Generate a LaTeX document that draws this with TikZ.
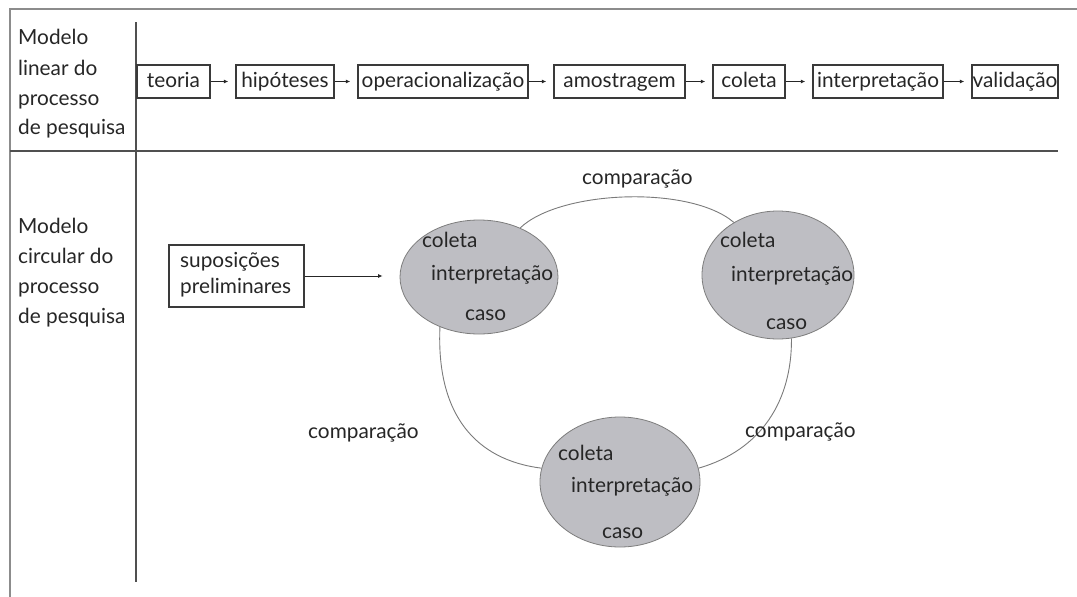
\documentclass[tikz,border=0pt]{standalone}
\usepackage{fontspec}
\setmainfont{Lato}
\usetikzlibrary{arrows.meta,shapes.geometric}
\definecolor{ink}{HTML}{262626}
\definecolor{framec}{HTML}{8C8C8C}
\definecolor{sepc}{HTML}{505050}
\definecolor{boxc}{HTML}{3A3A3A}
\definecolor{ellf}{HTML}{BEBEC3}
\definecolor{elld}{HTML}{7D7D7D}
\definecolor{ringc}{HTML}{7A7A7A}
\newcommand{\fs}{\fontsize{20.8}{23}\selectfont}
\tikzset{
  lbl/.style={anchor=base west, inner sep=0, text=ink, font=\fs},
  tbox/.style={draw=boxc, line width=1.4, minimum height=33, inner sep=0,
    text=ink, font=\fs, text height=15, text depth=4},
  sbox/.style={draw=boxc, line width=1.4, inner sep=0},
  arr/.style={draw=ink, line width=1, -{Latex[length=4.5pt,width=4pt]}, shorten >=7},
  ell/.style={ellipse, draw=elld, fill=ellf, line width=0.8, inner sep=0},
  ring/.style={draw=ringc, line width=0.9},
  frame/.style={draw=framec, line width=2},
  sep/.style={draw=sepc, line width=1.6}
}
\begin{document}
\begin{tikzpicture}[x=1pt,y=-1pt]
\useasboundingbox (0,0) rectangle (1077,597);
% frame and separators
\coordinate (fa) at (10,597);
\coordinate (fb) at (10,9);
\coordinate (fc) at (1077,9);
\draw[frame] (fa) -- (fb) -- (fc);
\coordinate (va) at (136,22);
\coordinate (vb) at (136,582);
\draw[sep] (va) -- (vb);
\coordinate (ha) at (10,151);
\coordinate (hb) at (1058,151);
\draw[sep, line width=2] (ha) -- (hb);
% left labels
\node[lbl] (l1) at (18,45) {Modelo};
\node[lbl] (l2) at (18,75) {linear do};
\node[lbl] (l3) at (18,105) {processo};
\node[lbl] (l4) at (18,134) {de pesquisa};
\node[lbl] (m1) at (18,233) {Modelo};
\node[lbl] (m2) at (18,263) {circular do};
\node[lbl] (m3) at (18,293) {processo};
\node[lbl] (m4) at (18,323) {de pesquisa};
% linear model
\node[tbox, minimum width=73] (teoria) at (173.5,81.5) {teoria};
\node[tbox, minimum width=98] (hip) at (285,81.5) {hipóteses};
\node[tbox, minimum width=170] (oper) at (443,81.5) {operacionalização};
\node[tbox, minimum width=131] (amos) at (619.5,81.5) {amostragem};
\node[tbox, minimum width=72] (col) at (749,81.5) {coleta};
\node[tbox, minimum width=130] (interp) at (878,81.5) {interpretação};
\node[tbox, minimum width=86] (valid) at (1015,81.5) {validação};
\draw[arr] (teoria) -- (hip);
\draw[arr] (hip) -- (oper);
\draw[arr] (oper) -- (amos);
\draw[arr] (amos) -- (col);
\draw[arr] (col) -- (interp);
\draw[arr] (interp) -- (valid);
% circular model
\node[sbox, minimum width=135, minimum height=62] (sup) at (236.5,276) {};
\node[lbl] (sup1) at (180,267) {suposições};
\node[lbl] (sup2) at (180,293) {preliminares};
\node[ell, minimum width=158, minimum height=114] (e1) at (479,277) {};
\node[ell, minimum width=152, minimum height=128] (e2) at (778,275) {};
\node[ell, minimum width=160, minimum height=130] (e3) at (620,482) {};
\draw[arr, shorten >=17] (sup.east) -- (sup.east -| e1.west);
\draw[ring] (e1.50) .. controls (560,190) and (690,185) .. (e2.130);
\draw[ring] (e2.-78) .. controls (792,400) and (762,450) .. (e3.10);
\draw[ring] (e1.-128) .. controls (436,415) and (476,460) .. (e3.170);
% ellipse texts
\node[lbl] (c1) at (422,247) {coleta};
\node[lbl] (i1) at (431,280) {interpretação};
\node[lbl] (k1) at (465,320) {caso};
\node[lbl] (c2) at (720,247) {coleta};
\node[lbl] (i2) at (731,281) {interpretação};
\node[lbl] (k2) at (766,329) {caso};
\node[lbl] (c3) at (558,460) {coleta};
\node[lbl] (i3) at (571,492) {interpretação};
\node[lbl] (k3) at (602,538) {caso};
% comparison labels
\node[lbl] (cmp1) at (582,184) {comparação};
\node[lbl] (cmp2) at (308,438) {comparação};
\node[lbl] (cmp3) at (745,437) {comparação};
\end{tikzpicture}
\end{document}
